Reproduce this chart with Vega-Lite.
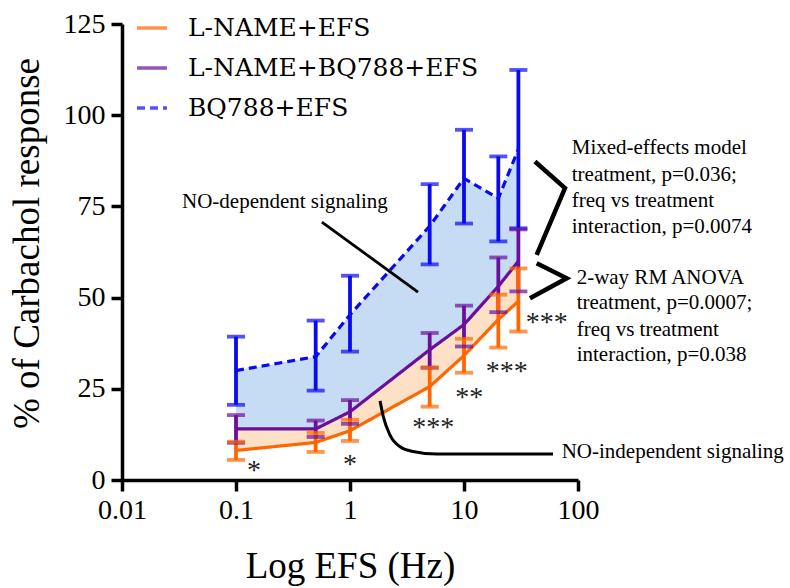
{
  "$schema": "https://vega.github.io/schema/vega-lite/v6.json",
  "width": 456,
  "height": 456,
  "autosize": "none",
  "padding": {"left": 122, "top": 24, "right": 212, "bottom": 108},
  "config": {
    "view": {"stroke": null},
    "font": "Liberation Serif",
    "text": {"font": "Liberation Serif"}
  },
  "datasets": {
    "main": [
      {"freq": 0.1, "series": "BQ788+EFS", "mean": 30.0, "lo": 20.6, "hi": 39.3},
      {"freq": 0.5, "series": "BQ788+EFS", "mean": 33.8, "lo": 24.5, "hi": 43.7},
      {"freq": 1, "series": "BQ788+EFS", "mean": 45.3, "lo": 35.2, "hi": 56.0},
      {"freq": 5, "series": "BQ788+EFS", "mean": 69.6, "lo": 59.1, "hi": 81.1},
      {"freq": 10, "series": "BQ788+EFS", "mean": 82.7, "lo": 70.3, "hi": 96.0},
      {"freq": 20, "series": "BQ788+EFS", "mean": 77.2, "lo": 65.4, "hi": 88.7},
      {"freq": 30, "series": "BQ788+EFS", "mean": 90.7, "lo": 69.0, "hi": 112.4},
      {"freq": 0.1, "series": "L-NAME+BQ788+EFS", "mean": 14.0, "lo": 10.2, "hi": 17.8},
      {"freq": 0.5, "series": "L-NAME+BQ788+EFS", "mean": 14.0, "lo": 11.8, "hi": 16.3},
      {"freq": 1, "series": "L-NAME+BQ788+EFS", "mean": 18.7, "lo": 15.4, "hi": 21.9},
      {"freq": 5, "series": "L-NAME+BQ788+EFS", "mean": 35.7, "lo": 30.8, "hi": 40.3},
      {"freq": 10, "series": "L-NAME+BQ788+EFS", "mean": 42.6, "lo": 36.6, "hi": 47.8},
      {"freq": 20, "series": "L-NAME+BQ788+EFS", "mean": 53.1, "lo": 46.0, "hi": 61.0},
      {"freq": 30, "series": "L-NAME+BQ788+EFS", "mean": 60.0, "lo": 51.7, "hi": 68.7},
      {"freq": 0.1, "series": "L-NAME+EFS", "mean": 8.1, "lo": 5.5, "hi": 10.5},
      {"freq": 0.5, "series": "L-NAME+EFS", "mean": 10.3, "lo": 7.7, "hi": 12.9},
      {"freq": 1, "series": "L-NAME+EFS", "mean": 13.5, "lo": 10.7, "hi": 16.5},
      {"freq": 5, "series": "L-NAME+EFS", "mean": 25.6, "lo": 20.1, "hi": 30.8},
      {"freq": 10, "series": "L-NAME+EFS", "mean": 34.1, "lo": 29.4, "hi": 38.7},
      {"freq": 20, "series": "L-NAME+EFS", "mean": 44.0, "lo": 36.3, "hi": 50.8},
      {"freq": 30, "series": "L-NAME+EFS", "mean": 49.0, "lo": 40.7, "hi": 58.0}
    ],
    "pointers": [
      {"id": "nodep", "ord": 1, "x": 0.567, "y": 70.7},
      {"id": "nodep", "ord": 2, "x": 3.95, "y": 51.5}
    ],
    "brackets": [
      {"id": "b1", "ord": 1, "x": 41.9, "y": 87.3},
      {"id": "b1", "ord": 2, "x": 76.9, "y": 80.0},
      {"id": "b1", "ord": 3, "x": 43.4, "y": 61.7},
      {"id": "b2", "ord": 1, "x": 43.4, "y": 59.4},
      {"id": "b2", "ord": 2, "x": 79.6, "y": 55.3},
      {"id": "b2", "ord": 3, "x": 37.9, "y": 49.8}
    ],
    "curve": [
      {"ord": 1, "x": 1.834, "y": 21.7},
      {"ord": 2, "x": 1.96, "y": 17.4},
      {"ord": 3, "x": 2.244, "y": 12.3},
      {"ord": 4, "x": 2.75, "y": 9.1},
      {"ord": 5, "x": 3.57, "y": 7.8},
      {"ord": 6, "x": 5.76, "y": 7.1},
      {"ord": 7, "x": 60.4, "y": 7.1}
    ],
    "notes": [
      {"x": 0.0336, "y": 76.2, "label": "NO-dependent signaling"},
      {"x": 88.1, "y": 90.9, "label": "Mixed-effects model"},
      {"x": 88.1, "y": 83.6, "label": "treatment, p=0.036;"},
      {"x": 88.1, "y": 76.6, "label": "freq vs treatment"},
      {"x": 88.1, "y": 69.4, "label": "interaction, p=0.0074"},
      {"x": 97.3, "y": 55.3, "label": "2-way RM ANOVA"},
      {"x": 97.3, "y": 48.4, "label": "treatment, p=0.0007;"},
      {"x": 97.3, "y": 41.1, "label": "freq vs treatment"},
      {"x": 97.3, "y": 34.3, "label": "interaction, p=0.038"},
      {"x": 71.9, "y": 7.8, "label": "NO-independent signaling"}
    ],
    "stars": [
      {"x": 0.144, "y": 4.1, "label": "*"},
      {"x": 1.0, "y": 5.8, "label": "*"},
      {"x": 5.38, "y": 16.0, "label": "***"},
      {"x": 11.1, "y": 24.2, "label": "**"},
      {"x": 23.7, "y": 31.3, "label": "***"},
      {"x": 53.1, "y": 44.6, "label": "***"}
    ]
  },
  "layer": [
    {
      "data": {"name": "main"},
      "transform": [{"pivot": "series", "value": "mean", "groupby": ["freq"]}],
      "mark": {"type": "area", "color": "#c6dcf5", "opacity": 1},
      "encoding": {
        "x": {"field": "freq", "type": "quantitative",
          "scale": {"type": "log", "domain": [0.01, 100]},
          "axis": {
            "values": [0.01, 0.1, 1, 10, 100], "format": "~g", "grid": false,
            "title": "Log EFS (Hz)", "labelFlush": false, "labelOverlap": false,
            "domainColor": "black", "domainWidth": 3.5, "tickColor": "black", "tickWidth": 3.5, "tickSize": 11,
            "labelFont": "Liberation Serif", "labelFontSize": 28, "labelColor": "black", "labelPadding": 5,
            "titleFont": "Liberation Serif", "titleFontSize": 37, "titleFontWeight": "normal", "titleColor": "black",
            "titleX": 228, "titleY": 97, "titleBaseline": "alphabetic", "titleAlign": "center"
          }},
        "y": {"field": "BQ788+EFS", "type": "quantitative",
          "scale": {"domain": [0, 125], "nice": false},
          "axis": {
            "values": [0, 25, 50, 75, 100, 125], "grid": false,
            "title": "% of Carbachol response", "labelFlush": false,
            "domainColor": "black", "domainWidth": 3.5, "tickColor": "black", "tickWidth": 3.5, "tickSize": 11,
            "labelFont": "Liberation Serif", "labelFontSize": 28, "labelColor": "black", "labelPadding": 6,
            "titleFont": "Liberation Serif", "titleFontSize": 37, "titleFontWeight": "normal", "titleColor": "black",
            "titleX": -95, "titleY": 219, "titleBaseline": "middle", "titleAlign": "center", "titleAngle": -90
          }},
        "y2": {"field": "L-NAME+BQ788+EFS"}
      }
    },
    {
      "data": {"name": "main"},
      "transform": [{"pivot": "series", "value": "mean", "groupby": ["freq"]}],
      "mark": {"type": "area", "color": "#fde0c6", "opacity": 1},
      "encoding": {
        "x": {"field": "freq", "type": "quantitative"},
        "y": {"field": "L-NAME+BQ788+EFS", "type": "quantitative"},
        "y2": {"field": "L-NAME+EFS"}
      }
    },
    {
      "data": {"name": "main"},
      "mark": {"type": "line", "strokeWidth": 3.2},
      "encoding": {
        "x": {"field": "freq", "type": "quantitative"},
        "y": {"field": "mean", "type": "quantitative"},
        "color": {"field": "series", "type": "nominal",
          "scale": {"domain": ["L-NAME+EFS", "L-NAME+BQ788+EFS", "BQ788+EFS"], "range": ["#ff6600", "#6a0f9a", "#0a0af0"]},
          "legend": {"title": null, "orient": "none", "legendX": 13, "legendY": -13, "padding": 0,
            "symbolType": "stroke", "symbolSize": 900, "symbolStrokeWidth": 3.5,
            "labelFont": "DejaVu Serif", "labelFontSize": 25, "labelColor": "black", "labelOffset": 19,
            "rowPadding": 10, "labelLimit": 400}},
        "strokeDash": {"field": "series", "type": "nominal",
          "scale": {"domain": ["L-NAME+EFS", "L-NAME+BQ788+EFS", "BQ788+EFS"], "range": [[1, 0], [1, 0], [8, 5]]},
          "legend": {"title": null, "orient": "none", "legendX": 13, "legendY": -13, "padding": 0,
            "symbolType": "stroke", "symbolSize": 900, "symbolStrokeWidth": 3.5,
            "labelFont": "DejaVu Serif", "labelFontSize": 25, "labelColor": "black", "labelOffset": 19,
            "rowPadding": 10, "labelLimit": 400}},
        "order": {"field": "freq"}
      }
    },
    {
      "data": {"name": "main"},
      "mark": {"type": "rule", "strokeWidth": 3.8},
      "encoding": {
        "x": {"field": "freq", "type": "quantitative"},
        "y": {"field": "lo", "type": "quantitative"},
        "y2": {"field": "hi"},
        "color": {"field": "series", "type": "nominal"}
      }
    },
    {
      "data": {"name": "main"},
      "mark": {"type": "tick", "orient": "horizontal", "size": 18, "thickness": 3.8},
      "encoding": {
        "x": {"field": "freq", "type": "quantitative"},
        "y": {"field": "lo", "type": "quantitative"},
        "color": {"field": "series", "type": "nominal"}
      }
    },
    {
      "data": {"name": "main"},
      "mark": {"type": "tick", "orient": "horizontal", "size": 18, "thickness": 3.8},
      "encoding": {
        "x": {"field": "freq", "type": "quantitative"},
        "y": {"field": "hi", "type": "quantitative"},
        "color": {"field": "series", "type": "nominal"}
      }
    },
    {
      "data": {"name": "pointers"},
      "mark": {"type": "line", "color": "black", "strokeWidth": 2.8},
      "encoding": {
        "x": {"field": "x", "type": "quantitative"},
        "y": {"field": "y", "type": "quantitative"},
        "detail": {"field": "id"},
        "order": {"field": "ord"}
      }
    },
    {
      "data": {"name": "brackets"},
      "mark": {"type": "line", "color": "black", "strokeWidth": 4.5, "strokeJoin": "miter"},
      "encoding": {
        "x": {"field": "x", "type": "quantitative"},
        "y": {"field": "y", "type": "quantitative"},
        "detail": {"field": "id"},
        "order": {"field": "ord"}
      }
    },
    {
      "data": {"name": "curve"},
      "mark": {"type": "line", "color": "black", "strokeWidth": 3, "interpolate": "monotone"},
      "encoding": {
        "x": {"field": "x", "type": "quantitative"},
        "y": {"field": "y", "type": "quantitative"},
        "order": {"field": "ord"}
      }
    },
    {
      "data": {"name": "notes"},
      "mark": {"type": "text", "align": "left", "baseline": "middle", "font": "Liberation Serif", "fontSize": 21, "color": "black"},
      "encoding": {
        "x": {"field": "x", "type": "quantitative"},
        "y": {"field": "y", "type": "quantitative"},
        "text": {"field": "label"}
      }
    },
    {
      "data": {"name": "stars"},
      "mark": {"type": "text", "align": "center", "baseline": "middle", "dy": 6, "font": "Liberation Serif", "fontSize": 28, "color": "#222222"},
      "encoding": {
        "x": {"field": "x", "type": "quantitative"},
        "y": {"field": "y", "type": "quantitative"},
        "text": {"field": "label"}
      }
    }
  ]
}
